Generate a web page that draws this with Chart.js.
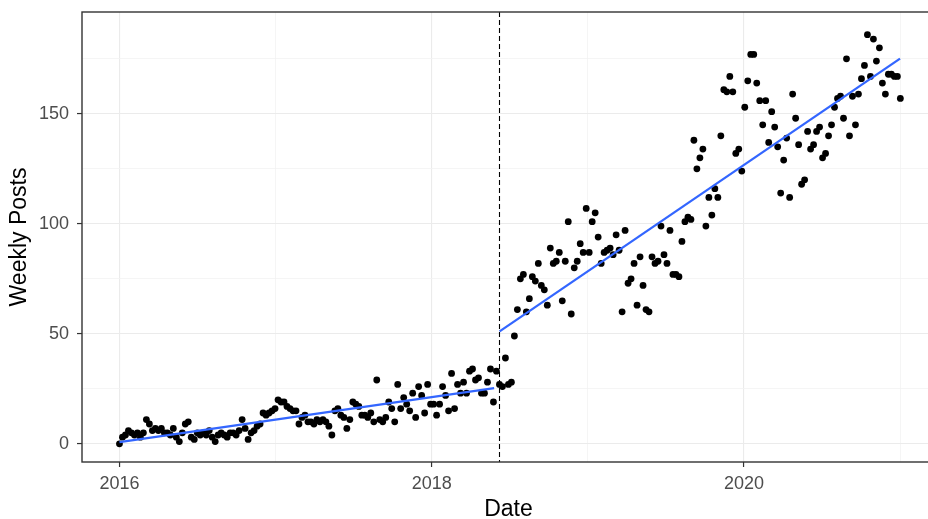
<!DOCTYPE html>
<html>
<head>
<meta charset="utf-8">
<title>Weekly Posts</title>
<script src="https://cdn.jsdelivr.net/npm/chart.js@4.4.1/dist/chart.umd.min.js"></script>
<style>
  html, body { margin: 0; padding: 0; background: #fff; overflow: hidden; }
  #wrap { width: 940px; height: 519px; }
</style>
</head>
<body>
<div id="wrap"><canvas id="chart" width="940" height="519"></canvas></div>
<script>
// Weekly post counts, one value per week starting on the first week of 2016
const firstWeek = '2016-01-01';
const weeklyPosts = [
  // 2016
  0, 3, 4, 6, 5, 4, 5, 3, 5, 11, 9, 6, 7, 6, 7, 5, 5, 4, 7, 3,
  1, 5, 9, 10, 3, 2, 5, 4, 5, 4, 6, 3, 1, 4, 5, 4, 3, 5, 5, 4,
  6, 11, 7, 2, 5, 6, 8, 9, 14, 13, 14, 15,
  // 2017
  16, 20, 19, 19, 17, 16, 15, 15, 9, 12, 13, 10, 10, 9, 11, 10, 11, 10, 8, 4,
  15, 16, 13, 12, 7, 11, 19, 18, 17, 13, 13, 12, 14, 10, 29, 11, 10, 12, 19, 16,
  10, 27, 16, 21, 18, 15, 23, 12, 26, 22, 14, 27,
  // 2018
  18, 18, 13, 18, 26, 22, 15, 32, 16, 27, 23, 28, 23, 33, 34, 29, 30, 23, 23, 28,
  34, 19, 33, 27, 26, 39, 27, 28, 49, 61, 75, 77, 60, 66, 76, 74, 82, 72, 70, 63,
  89, 82, 83, 87, 65, 83, 101, 59, 80, 83, 91, 87,
  // 2019
  107, 87, 101, 105, 94, 82, 87, 88, 89, 86, 95, 88, 60, 97, 73, 75, 82, 63, 85, 72,
  61, 60, 85, 82, 83, 99, 86, 82, 97, 77, 77, 76, 92, 101, 103, 102, 138, 125, 130, 134,
  99, 112, 104, 116, 112, 140, 161, 160, 167, 160, 132, 134,
  // 2020
  124, 153, 165, 177, 177, 164, 156, 145, 156, 137, 151, 144, 135, 114, 129, 139, 112, 159, 148, 136,
  118, 120, 142, 134, 136, 142, 144, 130, 132, 140, 145, 153, 157, 158, 148, 175, 140, 158, 145, 159,
  166, 172, 186, 167, 184, 174, 180, 164, 159, 168, 168, 167, 167, 157
];

// Date of the structural break (decimal year)
const breakDate = 2018.43;

// Linear trend before and after the break
const trendBeforeDates = [2016.0, 2018.40];
const trendBeforeValues = [0.8, 25.3];
const trendAfterDates = [2018.435, 2021.0];
const trendAfterValues = [51.1, 175.1];

// Axis ticks
const yearTicks = [2016, 2017, 2018, 2019, 2020, 2021];
const yearLabels = [2016, 2018, 2020];
const postTicks = [0, 25, 50, 75, 100, 125, 150, 175];
const postLabels = [0, 50, 100, 150];

// Visible ranges
const xRange = [2015.76, 2021.224];
const yRange = [-8.27, 196.3];

// Week dates as decimal years
const msPerDay = 864e5;
const msPerYear = 365.25 * msPerDay;
const start = Date.parse(firstWeek);
const yearStart = Date.UTC(2016, 0, 1);
const toYear = t => 2016 + (t - yearStart) / msPerYear;
const points = weeklyPosts.map((v, i) => ({ x: toYear(start + i * 7 * msPerDay), y: v }));
const trendBefore = trendBeforeDates.map((d, i) => ({ x: d, y: trendBeforeValues[i] }));
const trendAfter = trendAfterDates.map((d, i) => ({ x: d, y: trendAfterValues[i] }));

const tickFont = { family: "'Liberation Sans', Arial, sans-serif", size: 18 };
const titleFont = { family: "'Liberation Sans', Arial, sans-serif", size: 23, lineHeight: 0.85 };
const majorGrid = '#ebebeb';
const minorGrid = '#f3f3f3';

// Dashed break line and panel frame
const decorations = {
  id: 'decorations',
  afterDatasetsDraw(chart) {
    const { ctx, chartArea: a, scales: { x } } = chart;
    const px = Math.round(x.getPixelForValue(breakDate)) + 0.5;
    ctx.save();
    ctx.strokeStyle = '#000';
    ctx.lineWidth = 1.1;
    ctx.setLineDash([5, 3]);
    ctx.beginPath();
    ctx.moveTo(px, a.top);
    ctx.lineTo(px, a.bottom);
    ctx.stroke();
    ctx.restore();
  },
  afterDraw(chart) {
    const { ctx, chartArea: a } = chart;
    ctx.save();
    ctx.strokeStyle = '#333';
    ctx.lineWidth = 1.4;
    ctx.strokeRect(a.left, a.top, a.right - a.left, a.bottom - a.top);
    ctx.restore();
  }
};

// Keep the panel edges fixed regardless of label overhang
const fixX = s => { s.height = 57; s.paddingLeft = 0; s.paddingRight = 0; };
const fixY = s => { s.width = 82; s.paddingTop = 0; s.paddingBottom = 0; };

new Chart(document.getElementById('chart'), {
  type: 'scatter',
  data: {
    datasets: [
      { data: trendBefore, showLine: true, borderColor: '#3366FF', borderWidth: 2.3, pointRadius: 0, order: 0 },
      { data: trendAfter, showLine: true, borderColor: '#3366FF', borderWidth: 2.3, pointRadius: 0, order: 0 },
      { data: points, backgroundColor: '#000', borderWidth: 0, pointRadius: 3.4, order: 1 }
    ]
  },
  options: {
    responsive: false,
    animation: false,
    events: [],
    layout: { padding: { top: 12, right: 5, left: 0, bottom: 0 } },
    plugins: { legend: { display: false }, tooltip: { enabled: false } },
    scales: {
      x: {
        type: 'linear',
        min: xRange[0],
        max: xRange[1],
        afterBuildTicks: s => { s.ticks = yearTicks.map(v => ({ value: v })); },
        afterFit: fixX,
        ticks: {
          autoSkip: false,
          maxRotation: 0,
          padding: 6,
          color: '#4d4d4d',
          font: tickFont,
          callback: v => (yearLabels.includes(v) ? String(v) : '')
        },
        grid: {
          color: c => (c.tick && yearLabels.includes(c.tick.value) ? majorGrid : minorGrid),
          lineWidth: c => (c.tick && yearLabels.includes(c.tick.value) ? 1.1 : 0.8),
          drawTicks: true,
          tickLength: 5,
          tickColor: c => (c.tick && yearLabels.includes(c.tick.value) ? '#333' : 'rgba(0,0,0,0)'),
          tickWidth: 1.2
        },
        border: { display: false },
        title: { display: true, text: 'Date', color: '#000', font: titleFont, padding: { top: 0, bottom: 0 } }
      },
      y: {
        type: 'linear',
        min: yRange[0],
        max: yRange[1],
        afterBuildTicks: s => { s.ticks = postTicks.map(v => ({ value: v })); },
        afterFit: fixY,
        ticks: {
          autoSkip: false,
          padding: 8,
          color: '#4d4d4d',
          font: tickFont,
          callback: v => (postLabels.includes(v) ? String(v) : '')
        },
        grid: {
          color: c => (c.tick && postLabels.includes(c.tick.value) ? majorGrid : minorGrid),
          lineWidth: c => (c.tick && postLabels.includes(c.tick.value) ? 1.1 : 0.8),
          drawTicks: true,
          tickLength: 5,
          tickColor: c => (c.tick && postLabels.includes(c.tick.value) ? '#333' : 'rgba(0,0,0,0)'),
          tickWidth: 1.2
        },
        border: { display: false },
        title: { display: true, text: 'Weekly Posts', color: '#000', font: titleFont, padding: { top: 10, bottom: 0 } }
      }
    }
  },
  plugins: [decorations]
});
</script>
</body>
</html>
